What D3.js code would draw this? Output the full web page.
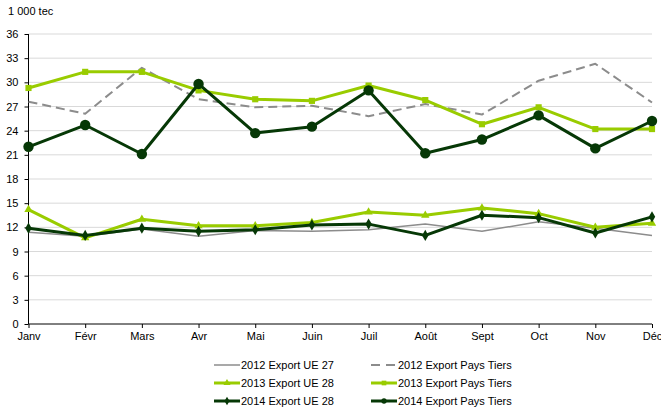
<!DOCTYPE html>
<html>
<head>
<meta charset="utf-8">
<title>Export</title>
<script src="https://cdn.jsdelivr.net/npm/d3@7"></script>
<style>
  body { margin: 0; background: #fff; }
  text { font-family: "Liberation Sans", Arial, sans-serif; }
</style>
</head>
<body>
<div id="viz"></div>
<script>
var months = ['Janv','Févr','Mars','Avr','Mai','Juin','Juil','Août','Sept','Oct','Nov','Déc'];
var yTicks = [0,3,6,9,12,15,18,21,24,27,30,33,36];

var ue2012 = [11.4,10.9,11.8,10.9,11.6,11.5,11.7,12.4,11.5,12.7,11.9,11.0];
var tiers2012 = [27.6,26.1,31.8,27.9,26.9,27.1,25.8,27.3,26.0,30.2,32.3,27.5];
var ue2013 = [14.2,10.7,13.0,12.2,12.2,12.6,13.9,13.5,14.4,13.7,12.0,12.5];
var tiers2013 = [29.3,31.3,31.3,29.0,27.9,27.7,29.6,27.8,24.8,26.9,24.2,24.2];
var ue2014 = [11.9,11.0,11.9,11.5,11.7,12.3,12.4,11.0,13.5,13.2,11.3,13.3];
var tiers2014 = [22.0,24.7,21.1,29.8,23.7,24.5,29.0,21.2,22.9,25.9,21.8,25.2];

var width = 661, height = 412;
var mLeft = 28.5, mRight = 652, mTop = 34, mBottom = 324;
var light = '#99cc00', dark = '#063806', grey = '#8c8c8c';

var series = [
  {name:'2012 Export UE 27', values:ue2012, color:grey, w:1.5, dash:null, marker:null},
  {name:'2012 Export Pays Tiers', values:tiers2012, color:grey, w:2, dash:'9,5', marker:null},
  {name:'2013 Export UE 28', values:ue2013, color:light, w:3, dash:null, marker:'triangle'},
  {name:'2013 Export Pays Tiers', values:tiers2013, color:light, w:3, dash:null, marker:'square'},
  {name:'2014 Export UE 28', values:ue2014, color:dark, w:3, dash:null, marker:'diamond'},
  {name:'2014 Export Pays Tiers', values:tiers2014, color:dark, w:3, dash:null, marker:'circle'}
];

var x = d3.scalePoint().domain(months).range([mLeft, mRight]);
var y = d3.scaleLinear().domain([0, 36]).range([mBottom, mTop]);

var svg = d3.select('#viz').append('svg')
  .attr('width', width).attr('height', height);

// grid
svg.append('g').selectAll('line').data(yTicks.filter(d => d > 0)).join('line')
  .attr('x1', mLeft).attr('x2', mRight)
  .attr('y1', d => y(d)).attr('y2', d => y(d))
  .attr('stroke', '#d9d9d9').attr('stroke-width', 1);

var yAxis = svg.append('g').attr('transform', `translate(${mLeft},0)`)
  .call(d3.axisLeft(y).tickValues(yTicks).tickSize(4).tickPadding(4));
var xAxis = svg.append('g').attr('transform', `translate(0,${mBottom})`)
  .call(d3.axisBottom(x).tickSize(4).tickPadding(4));
[yAxis, xAxis].forEach(a => {
  a.select('.domain').attr('stroke', '#000');
  a.selectAll('line').attr('stroke', '#000');
  a.selectAll('text').attr('font-size', 11).attr('fill', '#000')
    .attr('font-family', '"Liberation Sans", Arial, sans-serif');
});
yAxis.select('.domain').attr('d', `M0,${mBottom}V${mTop}`);
xAxis.select('.domain').attr('d', `M${mLeft},0H${mRight}`);
yAxis.selectAll('text').attr('x', -10);

svg.append('text').attr('x', 8).attr('y', 15).attr('font-size', 11).text('1 000 tec');

var symType = {triangle: d3.symbolTriangle, square: d3.symbolSquare, diamond: d3.symbolDiamond, circle: d3.symbolCircle};
var symSize = {triangle: 30, square: 38, diamond: 36, circle: 85};

var line = d3.line().x((d, i) => x(months[i])).y(d => y(d));

series.forEach(s => {
  var g = svg.append('g');
  g.append('path').attr('d', line(s.values))
    .attr('fill', 'none').attr('stroke', s.color)
    .attr('stroke-width', s.w).attr('stroke-linejoin', 'round')
    .attr('stroke-dasharray', s.dash);
  if (s.marker) {
    g.selectAll('path.m').data(s.values).join('path').attr('class', 'm')
      .attr('transform', (d, i) => `translate(${x(months[i])},${y(d)})`)
      .attr('d', d3.symbol(symType[s.marker], symSize[s.marker])())
      .attr('fill', s.color);
  }
});

// legend
var legendPos = [[214,365],[371,365],[214,383],[371,383],[214,401],[371,401]];
var lg = svg.append('g').selectAll('g').data(series).join('g')
  .attr('transform', (d, i) => `translate(${legendPos[i][0]},${legendPos[i][1]})`);
lg.append('line').attr('x1', 0).attr('x2', 26).attr('y1', 0).attr('y2', 0)
  .attr('stroke', d => d.color).attr('stroke-width', d => d.w)
  .attr('stroke-dasharray', d => d.dash ? '9,6' : null);
lg.filter(d => d.marker).append('path')
  .attr('transform', 'translate(13,0)')
  .attr('d', d => d3.symbol(symType[d.marker], 22)())
  .attr('fill', d => d.color);
lg.append('text').attr('x', 27).attr('y', 4).attr('font-size', 11).text(d => d.name);
</script>
</body>
</html>
